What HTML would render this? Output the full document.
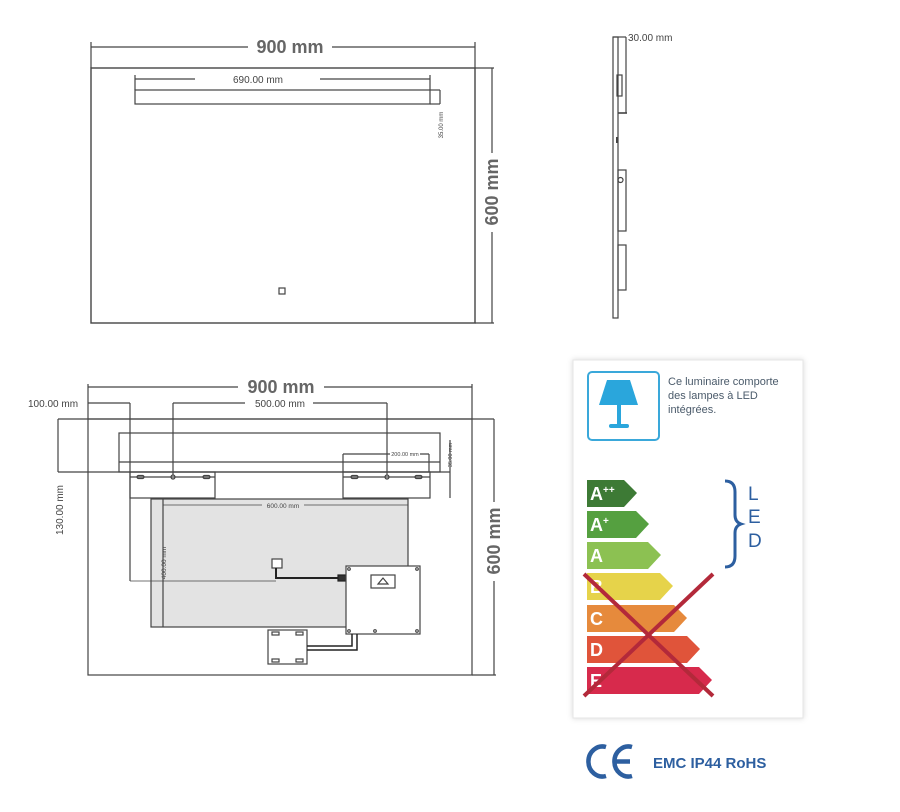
<!DOCTYPE html>
<html><head><meta charset="utf-8"><style>
body{margin:0;background:#fff;width:900px;height:812px;overflow:hidden}
svg{display:block}
</style></head><body>
<svg width="900" height="812" viewBox="0 0 900 812" xmlns="http://www.w3.org/2000/svg" font-family="Liberation Sans, sans-serif">
<g stroke="#444" fill="none" stroke-width="1.2">
<!-- top front view -->
<rect x="91" y="68" width="384" height="255" stroke-width="1.4"/>
<line x1="91" y1="47" x2="475" y2="47"/>
<line x1="91" y1="42" x2="91" y2="68"/><line x1="475" y1="42" x2="475" y2="68"/>
<line x1="475" y1="68" x2="494" y2="68"/><line x1="475" y1="323" x2="494" y2="323"/>
<line x1="492" y1="68" x2="492" y2="323"/>
<rect x="135" y="90" width="295" height="14"/>
<line x1="135" y1="79" x2="430" y2="79"/>
<line x1="135" y1="75" x2="135" y2="90"/><line x1="430" y1="75" x2="430" y2="90"/>
<line x1="430" y1="90" x2="440" y2="90"/><line x1="440" y1="90" x2="440" y2="104"/><line x1="430" y1="104" x2="440" y2="104"/>
<rect x="279" y="288" width="6" height="6"/>
<!-- side view -->
<rect x="613" y="37" width="5" height="281"/>
<line x1="613" y1="37" x2="626" y2="37"/><line x1="626" y1="37" x2="626" y2="113"/>
<line x1="618" y1="113" x2="627" y2="113" stroke-width="1.6"/>
<rect x="617" y="75" width="5" height="21"/>
<line x1="617" y1="137" x2="617" y2="143" stroke-width="2"/>
<rect x="618" y="170" width="8" height="61"/>
<circle cx="620.5" cy="180" r="2.5"/>
<rect x="618" y="245" width="8" height="45"/>
<!-- bottom view -->
<rect x="88" y="419" width="384" height="256"/>
<line x1="58" y1="419" x2="494" y2="419"/>
<line x1="494" y1="419" x2="494" y2="675"/><line x1="472" y1="675" x2="496" y2="675"/>
<line x1="88" y1="387" x2="472" y2="387"/>
<line x1="88" y1="384" x2="88" y2="419"/><line x1="472" y1="384" x2="472" y2="419"/>
<rect x="119" y="433" width="321" height="39"/>
<line x1="119" y1="462" x2="440" y2="462"/>
<line x1="58" y1="472" x2="450" y2="472"/>
<line x1="58" y1="419" x2="58" y2="472"/>
<line x1="450" y1="440" x2="450" y2="498"/>
<rect x="130" y="472" width="85" height="26"/>
<rect x="343" y="472" width="87" height="26"/>
<line x1="130" y1="477" x2="215" y2="477"/><line x1="343" y1="477" x2="430" y2="477"/>
<rect x="137" y="475.5" width="7" height="3" rx="1.5"/><rect x="203" y="475.5" width="7" height="3" rx="1.5"/>
<rect x="351" y="475.5" width="7" height="3" rx="1.5"/><rect x="415" y="475.5" width="7" height="3" rx="1.5"/>
<circle cx="173" cy="477" r="2"/><circle cx="387" cy="477" r="2"/>
<line x1="88" y1="403" x2="130" y2="403"/><line x1="130" y1="403" x2="130" y2="581"/>
<line x1="173" y1="403" x2="387" y2="403"/>
<line x1="173" y1="403" x2="173" y2="475"/><line x1="387" y1="403" x2="387" y2="475"/>
<line x1="343" y1="454" x2="429" y2="454"/><line x1="343" y1="454" x2="343" y2="472"/><line x1="429" y1="454" x2="429" y2="472"/>
<rect x="151" y="499" width="257" height="128" fill="#e3e3e3"/>
<line x1="163" y1="499" x2="163" y2="627"/>
<line x1="163" y1="505" x2="408" y2="505" stroke-width="0.8"/>
<line x1="130" y1="581" x2="276" y2="581" stroke-width="0.8"/>
<rect x="272" y="559" width="10" height="9" fill="#fff"/>
<polyline points="276,568 276,578 342,578" stroke="#222" stroke-width="2"/>
<rect x="338" y="575" width="8" height="6" fill="#333" stroke="#222"/>
<rect x="346" y="566" width="74" height="68" fill="#fff"/>
<rect x="371" y="575" width="24" height="13"/>
<path d="M378 584 L383 578 L388 584 Z"/>
<circle cx="349" cy="569" r="1.3"/><circle cx="417" cy="569" r="1.3"/><circle cx="349" cy="631" r="1.3"/><circle cx="417" cy="631" r="1.3"/><circle cx="375" cy="631" r="1.3"/>
<rect x="268" y="630" width="39" height="34" fill="#fff"/>
<rect x="272" y="632" width="7" height="3"/><rect x="296" y="632" width="7" height="3"/>
<rect x="272" y="659" width="7" height="3"/><rect x="296" y="659" width="7" height="3"/>
<polyline points="307,646 352,646 352,634" stroke="#222" stroke-width="1.5"/>
<polyline points="307,650 357,650 357,634" stroke="#222" stroke-width="1.5"/>
</g>
<g fill="#666" font-weight="bold" font-size="18">
<rect x="248" y="36" width="84" height="20" fill="#fff"/>
<text x="290" y="53" text-anchor="middle">900 mm</text>
<rect x="483" y="153" width="18" height="79" fill="#fff"/>
<text transform="translate(498,192) rotate(-90)" text-anchor="middle">600 mm</text>
<rect x="238" y="377" width="86" height="20" fill="#fff"/>
<text x="281" y="393" text-anchor="middle">900 mm</text>
<rect x="484" y="502" width="20" height="79" fill="#fff"/>
<text transform="translate(500,541) rotate(-90)" text-anchor="middle">600 mm</text>
</g>
<g fill="#444" font-size="10">
<rect x="195" y="73" width="125" height="12" fill="#fff"/>
<text x="258" y="83" text-anchor="middle">690.00 mm</text>
<text transform="translate(443,125) rotate(-90)" text-anchor="middle" font-size="6">35.00 mm</text>
<text x="628" y="41">30.00 mm</text>
<rect x="245" y="397" width="68" height="12" fill="#fff"/>
<text x="280" y="407" text-anchor="middle">500.00 mm</text>
<text x="28" y="407">100.00 mm</text>
<rect x="53" y="480" width="12" height="60" fill="#fff"/>
<text transform="translate(63,510) rotate(-90)" text-anchor="middle">130.00 mm</text>
<rect x="390" y="450" width="30" height="8" fill="#fff"/>
<text x="405" y="456" text-anchor="middle" font-size="5.5">200.00 mm</text>
<text transform="translate(452,455) rotate(-90)" text-anchor="middle" font-size="5.5">35.00 mm</text>
<rect x="262" y="500" width="42" height="10" fill="#e3e3e3"/>
<text x="283" y="508" text-anchor="middle" font-size="6.5">600.00 mm</text>
<text transform="translate(166,563) rotate(-90)" text-anchor="middle" font-size="6.5">400.00 mm</text>
</g>
<!-- energy label -->
<rect x="573" y="360" width="230" height="358" fill="#fff" stroke="#e6e6e6" style="filter:drop-shadow(0 0 3px rgba(0,0,0,0.15))"/>
<rect x="588" y="372" width="71" height="68" rx="4" fill="#fff" stroke="#3aa8da" stroke-width="2"/>
<path d="M607 380 L630 380 L638 405 L599 405 Z" fill="#2aa6dc"/>
<rect x="617" y="405" width="4" height="20" fill="#2aa6dc"/>
<rect x="609" y="424" width="20" height="4" rx="2" fill="#2aa6dc"/>
<g font-size="11" fill="#4a5a6a"><text x="668" y="385">Ce luminaire comporte</text><text x="668" y="399">des lampes à LED</text><text x="668" y="413">intégrées.</text></g>
<g font-weight="bold" font-size="18" fill="#fff">
<path d="M587 480 L624 480 L637 493 L624 507 L587 507 Z" fill="#3d7a35"/>
<path d="M587 511 L636 511 L649 524 L636 538 L587 538 Z" fill="#55a040"/>
<path d="M587 542 L648 542 L661 555 L648 569 L587 569 Z" fill="#8cc152"/>
<path d="M587 573 L660 573 L673 586 L660 600 L587 600 Z" fill="#e6d34a"/>
<path d="M587 605 L674 605 L687 618 L674 632 L587 632 Z" fill="#e68a3c"/>
<path d="M587 636 L687 636 L700 649 L687 663 L587 663 Z" fill="#e0543a"/>
<path d="M587 667 L699 667 L712 680 L699 694 L587 694 Z" fill="#d72a4c"/>
<text x="590" y="500">A<tspan font-size="10" dy="-7">++</tspan></text>
<text x="590" y="531">A<tspan font-size="10" dy="-7">+</tspan></text>
<text x="590" y="562">A</text><text x="590" y="593">B</text><text x="590" y="625">C</text><text x="590" y="656">D</text><text x="590" y="687">E</text>
</g>
<g stroke="#b3293a" stroke-width="4"><line x1="584" y1="574" x2="713" y2="696"/><line x1="713" y1="574" x2="584" y2="696"/></g>
<path d="M725 481 Q735 481 735 492 L735 515 Q735 522 741 524 Q735 526 735 533 L735 556 Q735 567 725 567" fill="none" stroke="#2d5fa0" stroke-width="3"/>
<g fill="#2d5fa0" font-size="19"><text x="748" y="500">L</text><text x="748" y="523">E</text><text x="748" y="547">D</text></g>
<g fill="none" stroke="#2d5fa0" stroke-width="4.5"><path d="M606 747 A14 15 0 1 0 606 776"/><path d="M632 747 A14 15 0 1 0 632 776"/><line x1="616" y1="761.5" x2="630" y2="761.5"/></g>
<text x="653" y="768" fill="#2d5fa0" font-weight="bold" font-size="15">EMC IP44 RoHS</text>
</svg>
</body></html>
